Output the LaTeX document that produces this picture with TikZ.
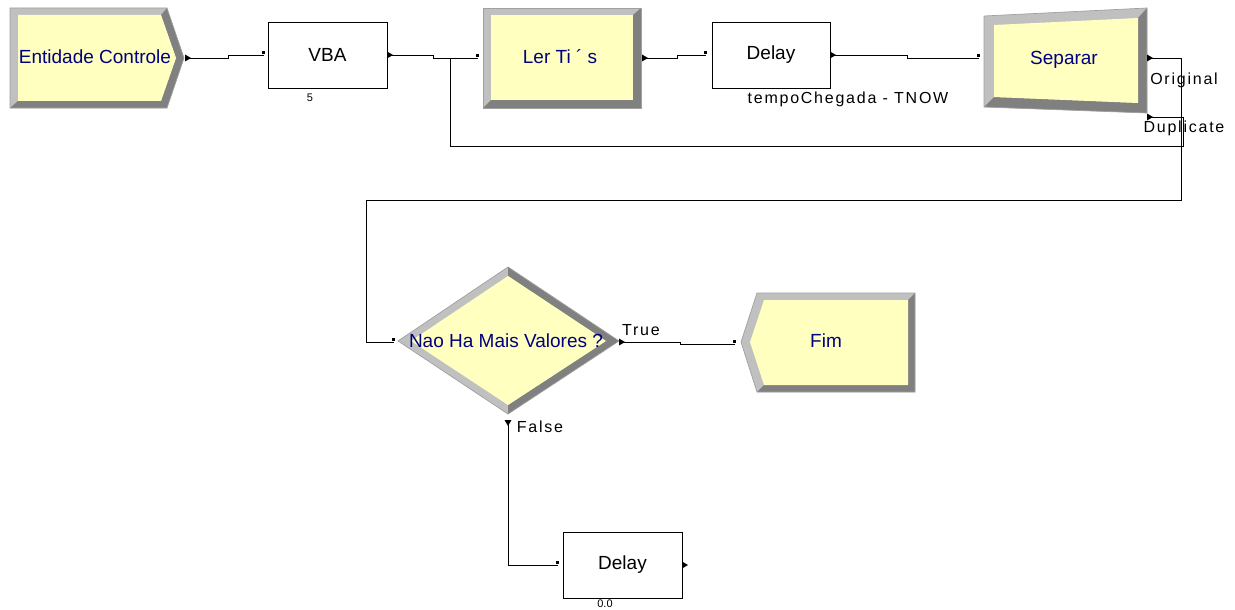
\documentclass[tikz,border=0pt]{standalone}
\usepackage{fontspec}
\setmainfont{Liberation Sans}
\newfontfamily\lblfont[LetterSpace=11]{Liberation Sans}
\definecolor{modfill}{RGB}{255,255,192}
\definecolor{bevlight}{RGB}{192,192,192}
\definecolor{bevdark}{RGB}{128,128,128}
\definecolor{bevedge}{RGB}{160,160,160}
\definecolor{modtext}{RGB}{0,0,128}
\tikzset{
  conn/.style={draw=black, line width=0.9pt},
  light/.style={fill=bevlight},
  dark/.style={fill=bevdark},
  face/.style={fill=modfill},
  rim/.style={draw=bevedge, line width=0.7pt},
  modlabel/.style={text=modtext, font=\fontsize{19}{22}\selectfont, inner sep=0pt},
  procbox/.style={draw=black, line width=0.8pt, fill=white, inner sep=0pt,
    font=\fontsize{19}{22}\selectfont},
  portlabel/.style={font=\fontsize{16}{19}\lblfont, inner sep=0pt},
  smalllabel/.style={font=\fontsize{11}{13}\selectfont, inner sep=0pt},
  outR/.pic={\fill (0,-3.5) -- (6,0) -- (0,3.5) -- cycle;},
  outD/.pic={\fill (-3.5,0) -- (0,6) -- (3.5,0) -- cycle;},
  inDot/.pic={\fill (-1.8,-4) rectangle (1.2,-1);}
}
\begin{document}
\begin{tikzpicture}[x=1pt,y=-1pt]
\useasboundingbox (0,0) rectangle (1235,610);

% ---- port coordinates ----
\coordinate (ec-o)   at (185,58);
\coordinate (vba-i)  at (264,55);
\coordinate (vba-o)  at (387,55);
\coordinate (ler-i)  at (478,58);
\coordinate (join)   at (450,58);
\coordinate (ler-o)  at (642,58);
\coordinate (del1-i) at (706,55);
\coordinate (del1-o) at (830,55);
\coordinate (sep-i)  at (979,58);
\coordinate (sep-o1) at (1147,58);
\coordinate (sep-o2) at (1147,117);
\coordinate (loopR)  at (1181,200);
\coordinate (loopL)  at (366,200);
\coordinate (dupR)   at (1183,146);
\coordinate (dupL)   at (450,146);
\coordinate (dec-i)  at (394,342);
\coordinate (dec-t)  at (619,342);
\coordinate (dec-f)  at (508,420);
\coordinate (fim-i)  at (735,344);
\coordinate (del2-i) at (558,565);
\coordinate (del2-o) at (682,565);

% ---- connectors ----
\draw[conn] (ec-o) -- ++(43,0) |- (vba-i);
\draw[conn] (vba-o) -- ++(46,0) |- (ler-i);
\draw[conn] (ler-o) -- ++(35,0) |- (del1-i);
\draw[conn] (del1-o) -- ++(77,0) |- (sep-i);
\draw[conn] (sep-o1) -| (loopR) -- (loopL) |- (dec-i);
\draw[conn] (sep-o2) -| (dupR) -- (dupL) -- (join);
\draw[conn] (dec-t) -- ++(61,0) |- (fim-i);
\draw[conn] (dec-f) |- (del2-i);

% ---- Create: Entidade Controle ----
\path[light] (10,8) -- (167,8) -- (184,58) -- (167,108) -- (10,108) -- cycle;
\path[dark] (167,8) -- (184,58) -- (167,108) -- (10,108) -- (18,101) -- (161,101) -- (176,58) -- (161,15) -- cycle;
\path[face] (18,15) -- (161,15) -- (176,58) -- (161,101) -- (18,101) -- cycle;
\draw[rim] (10,8) -- (167,8) -- (184,58) -- (167,108) -- (10,108) -- cycle;
\node[modlabel] (ec) at (95,57) {Entidade Controle};

% ---- VBA ----
\node[procbox, minimum width=119, minimum height=66] (vba) at (327.5,55) {VBA};
\node[smalllabel] (vba-n) at (310,98) {5};

% ---- Assign: Ler Ti ´ s ----
\path[light] (483,8) rectangle (641,108);
\path[dark] (641,8) -- (641,108) -- (483,108) -- (491,100) -- (633,100) -- (633,15) -- cycle;
\path[face] (491,15) rectangle (633,100);
\draw[rim] (483,8) rectangle (641,108);
\node[modlabel] (ler) at (560,57) {Ler Ti ´ s};

% ---- Delay ----
\node[procbox, minimum width=118, minimum height=66] (del1) at (771,55) {Delay};
\node[portlabel] (del1-n) at (848,99) {tempoChegada - TNOW};

% ---- Separate: Separar ----
\path[light] (984,16) -- (1147,8) -- (1147,113) -- (984,107) -- cycle;
\path[dark] (1147,8) -- (1147,113) -- (984,107) -- (994,97) -- (1138,103) -- (1138,18) -- cycle;
\path[face] (994,25) -- (1138,18) -- (1138,103) -- (994,97) -- cycle;
\draw[rim] (984,16) -- (1147,8) -- (1147,113) -- (984,107) -- cycle;
\node[modlabel] (sep) at (1064,60) {Separar};
\node[portlabel] (orig) at (1184,80) {Original};
\node[portlabel] (dup) at (1184,128) {Duplicate};

% ---- Decide ----
\path[light] (508,267) -- (619,341) -- (508,414) -- (398,341) -- cycle;
\path[dark] (508,267) -- (619,341) -- (508,414) -- (508,405) -- (606,341) -- (508,276) -- cycle;
\path[face] (508,276) -- (606,341) -- (508,405) -- (411,341) -- cycle;
\draw[rim] (508,267) -- (619,341) -- (508,414) -- (398,341) -- cycle;
\node[modlabel] (dec) at (506,341) {Nao Ha Mais Valores ?};
\node[portlabel] (true) at (641,330) {True};
\node[portlabel] (false) at (540,427) {False};

% ---- Dispose: Fim ----
\path[light] (741,342) -- (757,293) -- (915,293) -- (915,392) -- (757,392) -- cycle;
\path[dark] (915,293) -- (915,392) -- (757,392) -- (764,385) -- (908,385) -- (908,300) -- cycle;
\path[face] (750,342) -- (764,300) -- (908,300) -- (908,385) -- (764,385) -- cycle;
\draw[rim] (741,342) -- (757,293) -- (915,293) -- (915,392) -- (757,392) -- cycle;
\node[modlabel] (fim) at (826,341) {Fim};

% ---- Delay (second) ----
\node[procbox, minimum width=119, minimum height=66] (del2) at (622.5,565) {Delay};
\node[smalllabel] (del2-n) at (605,604) {0.0};

% ---- ports ----
\pic at (ec-o) {outR};
\pic at (vba-o) {outR};
\pic at (ler-o) {outR};
\pic at (del1-o) {outR};
\pic at (sep-o1) {outR};
\pic at (sep-o2) {outR};
\pic at (dec-t) {outR};
\pic at (dec-f) {outD};
\pic at (del2-o) {outR};
\pic at (vba-i) {inDot};
\pic at (ler-i) {inDot};
\pic at (del1-i) {inDot};
\pic at (sep-i) {inDot};
\pic at (dec-i) {inDot};
\pic at (fim-i) {inDot};
\pic at (del2-i) {inDot};
\end{tikzpicture}
\end{document}
